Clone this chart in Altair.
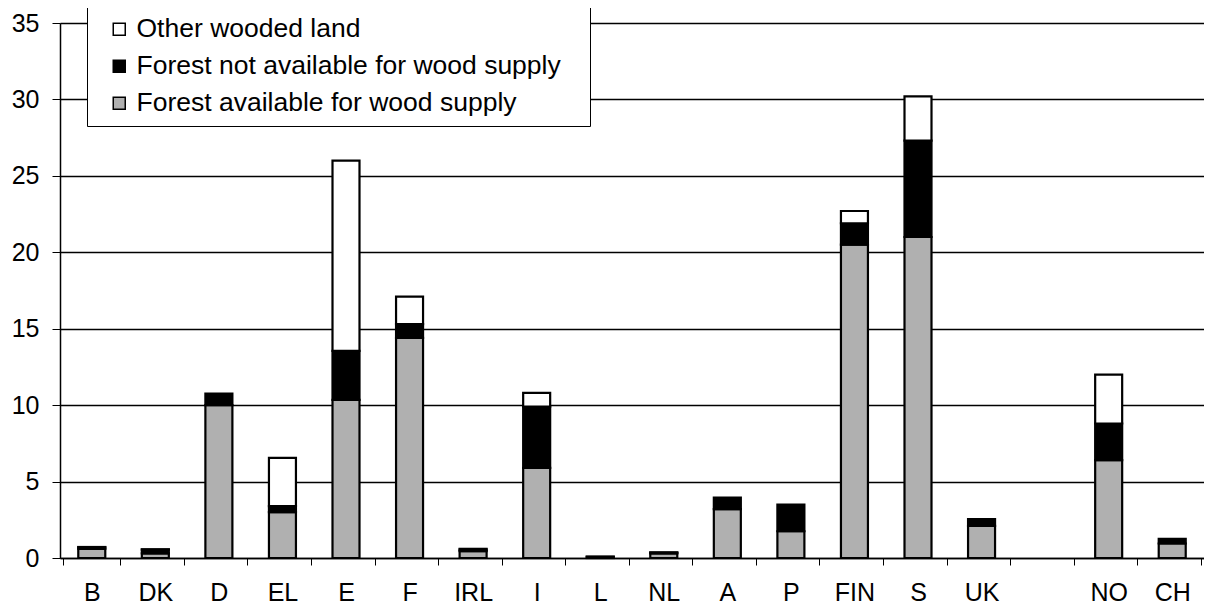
import altair as alt
import pandas as pd

countries = ["B", "DK", "D", "EL", "E", "F", "IRL", "I", "L", "NL", "A", "P",
             "FIN", "S", "UK", "NO", "CH"]
x_order = ["B", "DK", "D", "EL", "E", "F", "IRL", "I", "L", "NL", "A", "P",
           "FIN", "S", "UK", " ", "NO", "CH"]
available = [0.6, 0.3, 10.0, 3.0, 10.35, 14.4, 0.45, 5.9, 0.08, 0.3, 3.2, 1.75,
             20.5, 21.0, 2.1, 6.4, 0.95]
not_available = [0.1, 0.25, 0.75, 0.4, 3.2, 0.9, 0.1, 4.0, 0.01, 0.05, 0.75, 1.75,
                 1.4, 6.3, 0.45, 2.4, 0.3]
other_wooded = [0.02, 0.02, 0.0, 3.15, 12.45, 1.8, 0.05, 0.9, 0.0, 0.02, 0.0, 0.0,
                0.8, 2.9, 0.0, 3.2, 0.0]

series = ["Other wooded land",
          "Forest not available for wood supply",
          "Forest available for wood supply"]
colors = ["#ffffff", "#000000", "#b0b0b0"]

rows = []
for i, c in enumerate(countries):
    rows.append({"country": c, "series": series[2], "ord": 0, "value": available[i]})
    rows.append({"country": c, "series": series[1], "ord": 1, "value": not_available[i]})
    rows.append({"country": c, "series": series[0], "ord": 2, "value": other_wooded[i]})
df = pd.DataFrame(rows)

FONT = "Liberation Sans"

chart = alt.Chart(df).transform_filter("datum.value > 0").mark_bar(
    size=27, stroke="black", strokeWidth=2.2
).encode(
    x=alt.X("country:N", sort=x_order, scale=alt.Scale(domain=x_order),
            title=None,
            axis=alt.Axis(labelAngle=0, tickBand="extent", tickSize=7,
                          tickColor="black", domainColor="black", domainWidth=1.5,
                          labelFontSize=25, labelFont=FONT, labelColor="black",
                          labelPadding=15, grid=False)),
    y=alt.Y("value:Q", stack="zero", title=None,
            scale=alt.Scale(domain=[0, 35], nice=False),
            axis=alt.Axis(values=[0, 5, 10, 15, 20, 25, 30, 35], tickSize=8,
                          tickColor="black", domainColor="black", domainWidth=1.5,
                          labelFontSize=25, labelFont=FONT, labelColor="black",
                          labelPadding=13, grid=True, gridColor="black",
                          gridWidth=1.4, gridOpacity=1)),
    color=alt.Color("series:N", title=None,
                    scale=alt.Scale(domain=series, range=colors),
                    legend=alt.Legend(orient="none", legendX=27, legendY=-16,
                                      symbolType="square", symbolSize=144,
                                      symbolStrokeColor="black", symbolStrokeWidth=1.5,
                                      symbolOffset=10,
                                      labelFontSize=26.5, labelFont=FONT,
                                      labelColor="black", labelLimit=700,
                                      labelExpr="datum.label + '\u2800'",
                                      labelOffset=4, rowPadding=10, padding=9,
                                      fillColor="white", strokeColor="black")),
    order=alt.Order("ord:Q"),
).properties(
    width=1144, height=535,
    autosize=alt.AutoSizeParams(type="none"),
    padding={"left": 52, "top": 15, "right": 0, "bottom": 47},
).configure_view(strokeWidth=0).configure(background="white")

chart.save("out.html", embed_options={"renderer": "svg", "actions": False})
